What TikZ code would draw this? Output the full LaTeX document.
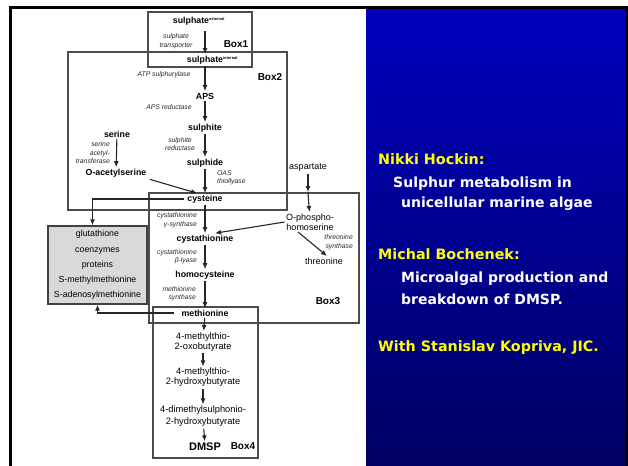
\documentclass[tikz,border=0pt]{standalone}
\usepackage{fontspec}
\setmainfont{Liberation Sans}
\newfontfamily\slidefont{DejaVu Sans}
\usetikzlibrary{arrows.meta}
\usetikzlibrary{positioning}

\definecolor{slidetop}{RGB}{0,0,190}
\definecolor{slidebottom}{RGB}{0,0,100}
\definecolor{slideyellow}{RGB}{255,255,0}

\newcommand{\extsup}[1]{\rlap{\raisebox{3.2pt}{\fontsize{4}{4}\selectfont #1}}}

\tikzset{
    metab/.style={font=\fontsize{8.8}{10}\selectfont\bfseries, inner sep=1.5pt},
    minor/.style={font=\fontsize{9}{10}\selectfont, inner sep=1.5pt, align=center},
    enzyme/.style={font=\fontsize{6.8}{8.5}\selectfont\itshape, inner sep=0pt, text=black!85},
    boxlabel/.style={font=\fontsize{10}{12}\selectfont\bfseries, inner sep=0pt},
    frame/.style={rectangle, draw=black!70, line width=1.2pt, inner sep=0pt},
    flow/.style={-{Latex[length=6pt,width=5pt]}, draw=black!85, line width=1.1pt},
    slidehead/.style={font=\slidefont\fontsize{14.3}{16}\selectfont\bfseries, text=slideyellow, anchor=west, inner sep=0pt},
    slidetext/.style={font=\slidefont\fontsize{14}{16}\selectfont\bfseries, text=white, anchor=west, inner sep=0pt},
}

\begin{document}
\begin{tikzpicture}[x=1pt, y=-1pt]
    \useasboundingbox (0,0) rectangle (628,465);

    % slide panel and frame
    \shade[top color=slidetop, bottom color=slidebottom] (366,8) rectangle (627,465);
    \draw[line width=3pt] (10.5,470) -- (10.5,7.5) -- (627,7.5) -- (627,470);

    % boxes
    \node (box1) at(200,39.5) [frame, minimum width=104pt, minimum height=55pt] {};
    \node (box2) at(177.5,131) [frame, minimum width=219pt, minimum height=158pt] {};
    \node (box3) at(254,258) [frame, minimum width=210pt, minimum height=130pt] {};
    \node (box4) at(205.5,382.5) [frame, minimum width=105pt, minimum height=151pt] {};
    \node (others) at(97.5,265) [
        rectangle, draw=black!75, line width=1.4pt, fill=black!15,
        minimum width=99pt, minimum height=78pt,
        align=center, font=\fontsize{8.8}{15.2}\selectfont,
    ] {glutathione\\coenzymes\\proteins\\S-methylmethionine\\S-adenosylmethionine};

    \node at(236,44) [boxlabel] {Box1};
    \node at(270,77) [boxlabel] {Box2};
    \node at(328,301) [boxlabel] {Box3};
    \node at(243,446) [boxlabel] {Box4};

    % main pathway
    \node (sulext) at(191,21) [metab] {sulphate\extsup{external}};
    \node (sulint) at(205,60) [metab] {sulphate\extsup{internal}};
    \node (aps) at(205,96) [metab] {APS};
    \node (sulphite) at(205,128) [metab] {sulphite};
    \node (sulphide) at(205,163) [metab] {sulphide};
    \node (cys) at(205,199) [metab] {cysteine};
    \node (cysta) at(205,239) [metab] {cystathionine};
    \node (homocys) at(205,275) [metab] {homocysteine};
    \node (met) at(205,313) [metab] {methionine};
    \node (mtob) at(203,342) [minor, font=\fontsize{9.3}{10}\selectfont] {4-methylthio-\\2-oxobutyrate};
    \node (mthb) at(203,377.5) [minor, font=\fontsize{9.3}{10}\selectfont] {4-methylthio-\\2-hydroxybutyrate};
    \node (dmshb) at(203,416.5) [minor, font=\fontsize{9.3}{12}\selectfont] {4-dimethylsulphonio-\\2-hydroxybutyrate};
    \node (dmsp) at(205,447) [metab, font=\fontsize{11}{12}\selectfont\bfseries] {DMSP};

    \node (serine) at(117,134) [metab] {serine};
    \node (oacser) at(116,173) [metab] {O-acetylserine};
    \node (asp) at(308,168) [minor] {aspartate};
    \node (ophs) at(310,222) [minor] {O-phospho-\\homoserine};
    \node (thr) at(324,261) [minor] {threonine};
    \coordinate (aspmid) at(308,192);

    % enzymes
    \node (transporter) at(176,41) [enzyme, align=center] {sulphate\\transporter};
    \node (atps) at(164,75) [enzyme] {ATP sulphurylase};
    \node (apsr) at(169,107) [enzyme] {APS reductase};
    \node (sir) at(180,144) [enzyme, align=center] {sulphite\\reductase};
    \node (sat) at(110,153) [enzyme, anchor=east, align=right] {serine\\acetyl-\\transferase};
    \node (oastl) at(217,178) [enzyme, anchor=west, align=left] {OAS\\thiollyase};
    \node (cgs) at(197,220) [enzyme, anchor=east, align=right] {cystathionine\\γ-synthase};
    \node (cbl) at(197,256.5) [enzyme, anchor=east, align=right] {cystathionine\\β-lyase};
    \node (ms) at(196,293.5) [enzyme, anchor=east, align=right] {methionine\\synthase};
    \node (ts) at(353,242) [enzyme, anchor=east, align=right] {threonine\\synthase};

    % arrows
    \draw[flow, shorten <=4pt] (sulext.south -| sulint.north) -- (sulint.north);
    \draw[flow] (sulint) -- (aps);
    \draw[flow] (aps) -- (sulphite);
    \draw[flow] (sulphite) -- (sulphide);
    \draw[flow] (sulphide) -- (cys);
    \draw[flow] (cys) -- (cysta);
    \draw[flow] (cysta) -- (homocys);
    \draw[flow] (homocys) -- (met);
    \draw[flow] (met) -- (mtob);
    \draw[flow] (mtob) -- (mthb);
    \draw[flow] (mthb) -- (dmshb);
    \draw[flow] (dmshb) -- (dmsp);
    \draw[flow] (serine) -- (oacser);
    \draw[flow, shorten <=2pt] (oacser.south east) -- ([xshift=-8pt]cys.north);
    \draw[flow] (asp) -- (aspmid);
    \draw[flow] (aspmid) -- (ophs);
    \draw[flow] (ophs.west) -- ([xshift=-20pt]cysta.north east);
    \draw[flow] ([xshift=-12pt]ophs.south) -- ([xshift=3pt]thr.north);
    \draw[flow, shorten <=2pt] (cys.west) -| ([xshift=-5pt]others.north);
    \draw[flow, shorten <=6pt] (met.west) -| (others.south);

    % slide text
    \node (nikki) at(378,159) [slidehead] {Nikki Hockin:};
    \node (topic1) at(393,184) [slidetext] {Sulphur metabolism in};
    \node (topic1b) at(401,204) [slidetext] {unicellular marine algae};
    \node (michal) at(378,254) [slidehead] {Michal Bochenek:};
    \node (topic2) at(401,279) [slidetext] {Microalgal production and};
    \node (topic2b) at(401,299) [slidetext] {breakdown of DMSP.};
    \node (with) at(378,348) [slidehead] {With Stanislav Kopriva, JIC.};
\end{tikzpicture}
\end{document}
